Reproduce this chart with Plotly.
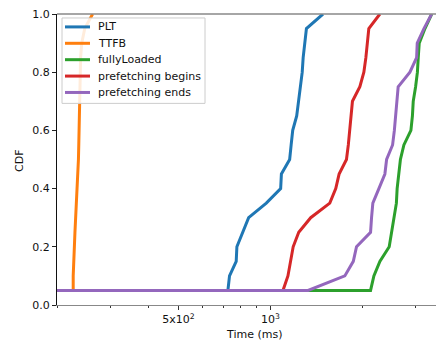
import plotly.graph_objects as go

cdf = [0.05, 0.05, 0.10, 0.15, 0.20, 0.25, 0.30, 0.35, 0.40, 0.45, 0.50,
       0.55, 0.60, 0.65, 0.70, 0.75, 0.80, 0.85, 0.90, 0.95, 1.00]

plt_ms = [150, 726, 735, 773, 777, 811, 849, 970, 1081, 1087, 1157, 1170,
          1184, 1220, 1239, 1257, 1272, 1281, 1296, 1313, 1488]
ttfb_ms = [150, 226, 226, 226.5, 228, 229, 230.4, 232, 233.5, 234.4, 235.1,
           235.7, 236.2, 236.6, 237.1, 237.5, 238.1, 239, 241, 246.6, 261.7]
fully_loaded_ms = [150, 2130, 2184, 2285, 2452, 2496, 2549, 2588, 2603, 2628,
                   2668, 2739, 2888, 2921, 2939, 2992, 3033, 3052, 3075, 3211, 3378]
prefetch_begin_ms = [150, 1100, 1142, 1166, 1188, 1239, 1356, 1566, 1638, 1680,
                     1776, 1801, 1821, 1842, 1858, 1965, 2025, 2056, 2079, 2102, 2285]
prefetch_end_ms = [150, 1329, 1754, 1870, 1916, 2130, 2146, 2167, 2268, 2373,
                   2404, 2515, 2549, 2578, 2603, 2623, 2866, 3015, 3029, 3186, 3378]

series_names = ["PLT", "TTFB", "fullyLoaded", "prefetching begins", "prefetching ends"]
series_values = [plt_ms, ttfb_ms, fully_loaded_ms, prefetch_begin_ms, prefetch_end_ms]
series_colors = ["#1f77b4", "#ff7f0e", "#2ca02c", "#d62728", "#9467bd"]

x_major_vals = [500, 1000]
x_major_text = ["5x10<sup>2</sup>", "10<sup>3</sup>"]
x_minor_vals = [200, 300, 400, 600, 700, 800, 900, 2000, 3000]
y_tick_vals = [0.0, 0.2, 0.4, 0.6, 0.8, 1.0]
y_tick_text = ["0.0", "0.2", "0.4", "0.6", "0.8", "1.0"]

FONT = "DejaVu Sans"
TXT = "#111111"

fig = go.Figure()
for name, xs, color in zip(series_names, series_values, series_colors):
    fig.add_trace(go.Scatter(x=xs, y=cdf, mode="lines", name=name,
                             line=dict(color=color, width=3), showlegend=False))

# manual legend (matplotlib style), in paper coordinates of the plot area
PW, PH = 387.0, 293.0
def px_x(p):
    return (p - 57) / PW
def px_y(p):
    return (305 - p) / PH

shapes = [
    dict(type="line", xref="paper", yref="paper", x0=0, x1=1, y0=1, y1=1,
         line=dict(color="#888888", width=1.5), layer="above"),
    dict(type="rect", xref="paper", yref="paper",
         x0=px_x(62), x1=px_x(205), y0=px_y(102), y1=px_y(16),
         fillcolor="rgba(255,255,255,0.85)", line=dict(color="#cccccc", width=1),
         layer="above"),
]
annotations = [
    dict(text="Time (ms)", xref="paper", yref="paper", x=px_x(254), y=px_y(335),
         xanchor="center", yanchor="middle", showarrow=False,
         font=dict(family=FONT, size=11, color=TXT)),
    dict(text="CDF", xref="paper", yref="paper", x=px_x(20), y=px_y(160),
         xanchor="center", yanchor="middle", showarrow=False, textangle=-90,
         font=dict(family=FONT, size=11, color=TXT)),
]
for i, (name, color) in enumerate(zip(series_names, series_colors)):
    row = 25 + i * 16.5
    shapes.append(dict(type="line", xref="paper", yref="paper",
                       x0=px_x(65), x1=px_x(90), y0=px_y(row), y1=px_y(row),
                       line=dict(color=color, width=3), layer="above"))
    annotations.append(dict(text=name, xref="paper", yref="paper",
                            x=px_x(96), y=px_y(row), xanchor="left", yanchor="middle",
                            showarrow=False, font=dict(family=FONT, size=11, color=TXT)))

# page body has an 8px margin: figure is sized/offset to compensate
fig.update_layout(
    width=436, height=337,
    margin=dict(l=49, r=0, t=4, b=40),
    paper_bgcolor="white", plot_bgcolor="white",
    font=dict(family=FONT, size=11, color=TXT),
    showlegend=False,
    xaxis=dict(type="log", range=[2.30103, 3.569], showgrid=False, zeroline=False,
               tickmode="array", tickvals=x_major_vals, ticktext=x_major_text,
               ticks="outside", ticklen=4, tickcolor="#333", tickwidth=1,
               showline=True, linecolor="#888888", linewidth=1.2,
               ticklabeloverflow="allow",
               tickfont=dict(family=FONT, size=11, color=TXT),
               minor=dict(tickmode="array", tickvals=x_minor_vals, ticks="outside",
                          ticklen=2, tickcolor="#333", tickwidth=1, showgrid=False)),
    yaxis=dict(range=[0, 1], showgrid=False, zeroline=False,
               tickmode="array", tickvals=y_tick_vals, ticktext=y_tick_text,
               ticks="outside", ticklen=4, tickcolor="#222", tickwidth=1,
               showline=True, linecolor="#111111", linewidth=1.2,
               ticklabeloverflow="allow",
               tickfont=dict(family=FONT, size=11, color=TXT)),
    shapes=shapes,
    annotations=annotations,
)

fig.write_html("out.html", config={"displayModeBar": False})
